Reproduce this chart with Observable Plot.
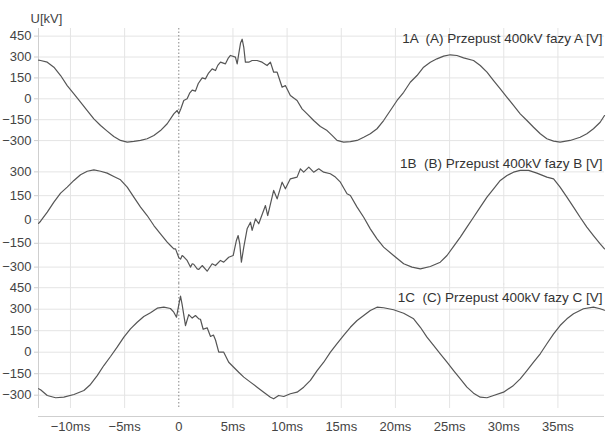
<!DOCTYPE html>
<html><head><meta charset="utf-8">
<script src="https://cdn.jsdelivr.net/npm/d3@7"></script>
<script src="https://cdn.jsdelivr.net/npm/@observablehq/plot@0.6"></script>
<style>
html,body{margin:0;padding:0;background:#fff;}
#chart{position:relative;width:606px;height:434px;font-family:"Liberation Sans",Arial,sans-serif;}
#chart svg{position:absolute;left:0;top:0;}
</style></head><body><div id="chart"></div>
<script>
// ---- data (time in ms, voltage in kV) ----
const xTicks = [-10, -5, 0, 5, 10, 15, 20, 25, 30, 35];
const yTicksA = [-300, -150, 0, 150, 300, 450];
const yTicksB = [-450, -300, -150, 0, 150, 300];
const yTicksC = [-300, -150, 0, 150, 300, 450];
const titles = ["1A  (A) Przepust 400kV fazy A [V]", "1B  (B) Przepust 400kV fazy B [V]", "1C  (C) Przepust 400kV fazy C [V]"];
const yLabel = "U[kV]";

const tA = [-12.94,-12.76,-12.14,-11.53,-10.91,-10.30,-9.68,-9.07,-8.45,-7.84,-7.22,-6.61,-6.00,-5.38,-4.76,-4.15,-3.53,-2.92,-2.30,-1.69,-1.07,-0.46,-0.15,0.00,0.20,0.46,0.77,1.00,1.24,1.54,1.80,2.16,2.46,2.75,3.08,3.39,3.60,3.85,4.31,4.55,4.77,5.23,5.39,5.55,5.70,5.85,6.00,6.15,6.46,6.77,7.23,7.69,8.15,8.46,8.76,9.08,9.54,9.84,10.30,10.92,11.38,11.85,12.45,13.07,13.69,14.15,14.61,15.22,15.84,16.46,17.07,17.68,18.30,18.91,19.53,20.15,20.76,21.37,21.99,22.60,23.22,23.83,24.45,25.06,25.68,26.29,27.21,27.83,28.45,29.06,29.68,30.30,30.90,31.52,32.14,32.75,33.37,33.98,34.60,35.20,36.13,37.05,37.67,38.28,38.90,39.30];
const vA = [278,275,263,227,167,95,36,-24,-84,-144,-192,-232,-271,-299,-311,-306,-299,-287,-263,-228,-179,-108,-84,-108,-70,-12,0,40,62,55,110,150,143,185,215,203,240,263,251,290,311,299,251,330,400,428,370,263,263,275,275,263,239,263,191,191,83,95,24,-12,-72,-108,-156,-199,-228,-263,-299,-311,-308,-299,-276,-251,-215,-156,-84,-12,47,119,167,227,263,287,306,316,311,294,275,239,191,131,72,11,-48,-108,-156,-204,-251,-287,-304,-311,-299,-276,-251,-215,-168,-120];

const tB = [-12.94,-12.76,-12.14,-11.53,-10.91,-10.30,-9.68,-9.07,-8.45,-7.84,-7.22,-6.61,-6.00,-5.38,-4.76,-4.15,-3.53,-2.92,-2.30,-1.69,-1.07,-0.77,-0.46,-0.30,0.00,0.16,0.31,0.46,0.77,1.08,1.24,1.38,1.70,1.85,2.16,2.62,3.08,3.39,3.85,4.15,4.61,5.02,5.32,5.48,5.63,5.78,6.00,6.31,6.62,6.77,7.08,7.38,8.00,8.21,8.76,9.08,9.54,9.84,10.30,10.92,11.23,11.53,12.00,12.45,12.92,13.38,13.99,14.46,14.92,15.53,15.84,16.46,17.07,17.68,18.30,18.91,19.83,20.76,21.53,22.30,23.22,24.14,24.76,25.37,25.99,26.60,27.21,27.83,28.45,29.06,29.68,30.30,30.90,31.52,32.29,33.06,33.98,34.60,35.20,35.83,36.44,37.05,37.67,38.28,38.90,39.30];
const vB = [-25,-11,46,109,166,204,246,282,304,313,304,292,271,250,204,141,78,25,-38,-90,-143,-164,-185,-185,-240,-250,-227,-235,-258,-300,-279,-282,-311,-315,-290,-326,-279,-290,-258,-269,-238,-227,-132,-101,-153,-269,-174,-59,-17,-69,4,-27,88,25,183,130,235,193,256,267,319,298,330,298,319,298,288,267,235,162,151,78,14,-59,-122,-174,-227,-279,-300,-311,-296,-269,-227,-170,-111,-48,14,78,141,193,246,277,298,309,309,292,267,256,204,141,78,14,-48,-101,-153,-185];

const tC = [-12.94,-12.76,-12.14,-11.37,-10.61,-9.68,-8.76,-8.15,-7.53,-6.92,-6.30,-5.69,-5.07,-4.46,-3.84,-3.23,-2.61,-1.99,-1.38,-0.77,-0.46,-0.21,0.00,0.16,0.31,0.62,0.92,1.24,1.54,1.85,2.00,2.25,2.62,2.93,3.20,3.39,3.69,4.15,4.61,5.07,5.53,6.00,6.61,7.23,7.84,8.46,8.76,9.22,9.69,10.30,10.92,11.53,12.15,12.77,13.38,14.00,14.61,15.22,15.84,16.46,17.07,17.68,18.30,18.91,19.83,20.76,21.68,22.30,22.91,23.52,24.14,24.76,25.37,25.99,26.60,27.21,27.83,28.45,29.06,29.98,30.90,31.52,32.14,32.75,33.37,33.98,34.60,35.20,35.83,36.44,37.36,38.28,38.90,39.30];
const vC = [-255,-262,-302,-318,-314,-295,-267,-225,-163,-93,-30,35,105,163,209,249,275,307,314,305,279,244,330,392,332,186,262,238,256,233,230,160,170,110,120,85,0,0,-70,-105,-140,-174,-209,-244,-279,-314,-325,-302,-309,-290,-279,-244,-197,-128,-70,0,59,117,174,221,256,291,314,310,296,272,233,174,105,47,-11,-70,-128,-186,-244,-286,-314,-318,-302,-279,-232,-186,-128,-70,-11,59,128,186,233,268,303,314,303,293];

// ---- layout ----
const W = 606, H = 434;
const xDomain = [-12.95, 39.3];
const font = "'Liberation Sans', Arial, sans-serif";
const fmtX = d => d === 0 ? "0" : (d < 0 ? "\u2212" : "") + Math.abs(d) + "ms";

const panels = [
  {t: tA, v: vA, ticks: yTicksA, domain: [-385.5, 504.7], top: 28, bottom: 152, title: titles[0], tdy: 5.2, axis: false, unit: true, clip: null},
  {t: tB, v: vB, ticks: yTicksB, domain: [-453.7, 422], top: 152, bottom: 291, title: titles[1], tdy: 6.2, axis: false, unit: false, clip: 285},
  {t: tC, v: vC, ticks: yTicksC, domain: [-392.9, 479.4], top: 283, bottom: 408, title: titles[2], tdy: 8.6, axis: true, unit: false, clip: null}
];

const root = document.getElementById("chart");
for (const p of panels) {
  const data = p.t.map((t, i) => ({t, v: p.v[i]}));
  const marks = [
    Plot.ruleY(p.ticks, {stroke: "#e4e4e4"}),
    Plot.ruleX(xTicks.filter(d => d !== 0), {stroke: "#e4e4e4"}),
    Plot.ruleX([0], {stroke: "#888", strokeDasharray: "1.5,2"}),
    Plot.ruleX([xDomain[0]], {stroke: "#cfcfcf"}),
    Plot.axisY(p.ticks, {tickSize: 4, tickPadding: 3, stroke: "#cfcfcf", fill: "#444", fontSize: 13, label: null}),
    Plot.line(data, {x: "t", y: "v", stroke: "#555", strokeWidth: 1.2}),
    Plot.text([p.title], {text: d => d, frameAnchor: "top-right", dx: -2, dy: p.tdy, fontSize: 13.5, fill: "#333"})
  ];
  if (p.unit) marks.push(Plot.text([yLabel], {text: d => d, frameAnchor: "top-left", textAnchor: "start", dx: -8, dy: -15, fontSize: 13, fill: "#444"}));
  if (p.axis) {
    marks.push(Plot.ruleY([p.domain[0]], {dy: 8, stroke: "#cfcfcf"}));
    marks.push(Plot.axisX(xTicks, {tickSize: 0, tickPadding: 13, tickFormat: fmtX, fill: "#444", fontSize: 13, label: null}));
  }
  const svg = Plot.plot({
    width: W, height: H,
    marginLeft: 38, marginRight: 2, marginTop: p.top, marginBottom: H - p.bottom,
    style: {background: "transparent", overflow: "visible", fontFamily: font, fontSize: "13px"},
    x: {domain: xDomain, axis: p.axis ? undefined : null},
    y: {domain: p.domain},
    marks
  });
  if (p.clip != null) svg.style.clipPath = `inset(0px 0px ${H - p.clip}px 0px)`;
  root.appendChild(svg);
}
</script></body></html>
